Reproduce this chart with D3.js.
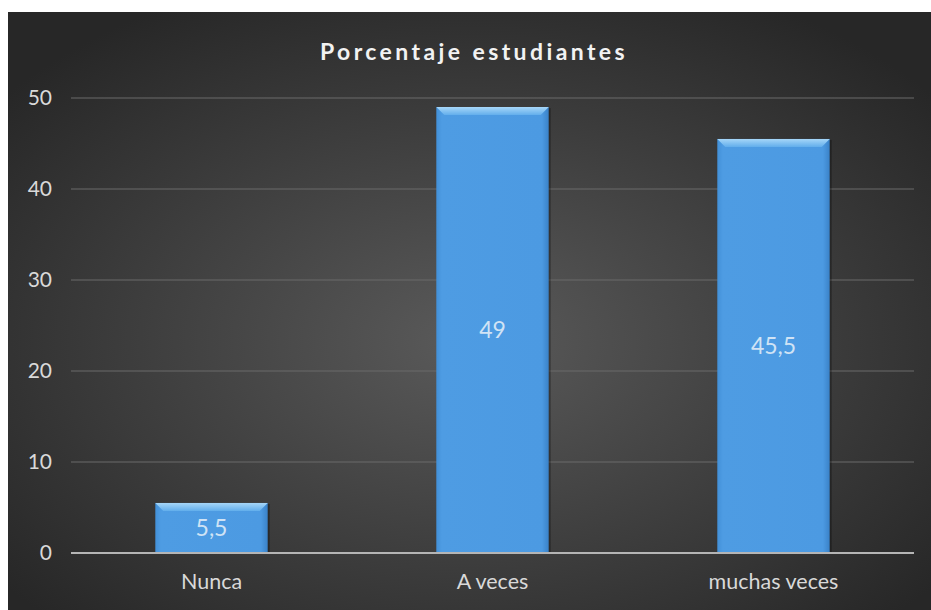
<!DOCTYPE html>
<html><head><meta charset="utf-8">
<script src="https://cdn.jsdelivr.net/npm/d3@7"></script>
<style>html,body{margin:0;padding:0;background:#fff;overflow:hidden}</style>
</head><body>
<svg id="c" width="931" height="610"></svg>
<script>
const categories = ["Nunca", "A veces", "muchas veces"];
const values = [5.5, 49, 45.5];
const valueLabels = ["5,5", "49", "45,5"];
const yTicks = [0, 10, 20, 30, 40, 50];
const title = "Porcentaje estudiantes";

const FONT = "Lato, 'Open Sans', sans-serif";
const svg = d3.select("#c");
const defs = svg.append("defs");
const bg = defs.append("radialGradient").attr("id","bg").attr("cx","50%").attr("cy","55%").attr("r","65%");
bg.append("stop").attr("offset","0%").attr("stop-color","#5a5a5a");
bg.append("stop").attr("offset","100%").attr("stop-color","#272727");
const bar = defs.append("linearGradient").attr("id","barg").attr("x1","0").attr("x2","1").attr("y1","0").attr("y2","0");
bar.append("stop").attr("offset","0%").attr("stop-color","#4290d8");
bar.append("stop").attr("offset","5%").attr("stop-color","#4e9ce3");
bar.append("stop").attr("offset","94%").attr("stop-color","#4c9ae2");
bar.append("stop").attr("offset","100%").attr("stop-color","#3a82c8");
const topg = defs.append("linearGradient").attr("id","topg").attr("x1","0").attr("x2","0").attr("y1","0").attr("y2","1");
topg.append("stop").attr("offset","0%").attr("stop-color","#a6d6f8");
topg.append("stop").attr("offset","100%").attr("stop-color","#62aeec");

svg.append("rect").attr("x",8).attr("y",12).attr("width",923).attr("height",598).attr("fill","url(#bg)");

const x = d3.scaleBand().domain(categories).range([71, 914]).paddingInner(0.6).paddingOuter(0.3);
const y = d3.scaleLinear().domain([0, 50]).range([553, 98]);

// gridlines
svg.append("g").selectAll("line").data(yTicks.filter(d=>d>0)).join("line")
  .attr("x1",71).attr("x2",914).attr("y1",d=>y(d)).attr("y2",d=>y(d))
  .attr("stroke","#6a6a6a").attr("stroke-width",1);

// y axis labels
const yAxis = d3.axisLeft(y).tickValues(yTicks).tickSize(0).tickPadding(0);
const ya = svg.append("g").attr("transform","translate(52,0)").call(yAxis);
ya.select(".domain").remove();
ya.selectAll("text").attr("fill","#d9d9d9").style("font-family",FONT).style("font-size","21px");

// bars
const g = svg.append("g");
const bw = x.bandwidth();
categories.forEach((c,i)=>{
  const x0 = x(c), y0 = y(values[i]), h = y(0)-y(values[i]);
  g.append("rect").attr("x",x0+2).attr("y",y0+1).attr("width",bw).attr("height",h-1).attr("fill","rgba(0,0,0,0.3)");
  g.append("rect").attr("x",x0).attr("y",y0).attr("width",bw).attr("height",h).attr("fill","url(#barg)");
  const b = 8;
  g.append("path").attr("d",`M${x0},${y0}L${x0+bw},${y0}L${x0+bw-b},${y0+b}L${x0+b},${y0+b}Z`).attr("fill","url(#topg)");
  g.append("text").attr("x",x0+bw/2).attr("y",(y0+y(0))/2+8).attr("text-anchor","middle")
    .attr("fill","#d0e3f5").style("font-family",FONT).style("font-size","23px").text(valueLabels[i]);
});

// x axis
svg.append("line").attr("x1",71).attr("x2",914).attr("y1",y(0)).attr("y2",y(0)).attr("stroke","#b5b5b5").attr("stroke-width",2);
const xAxis = d3.axisBottom(x).tickSize(0).tickPadding(0);
const xa = svg.append("g").attr("transform",`translate(0,${y(0)+21})`).call(xAxis);
xa.select(".domain").remove();
xa.selectAll("text").attr("fill","#d9d9d9").attr("dy","0.71em").style("font-family",FONT).style("font-size","21.5px");

svg.append("text").attr("x",474).attr("y",60).attr("text-anchor","middle")
  .attr("fill","#f2f2f2").style("font-family",FONT).style("font-size","23px")
  .style("font-weight","bold").style("letter-spacing","3.4px").text(title);
</script>
</body></html>
